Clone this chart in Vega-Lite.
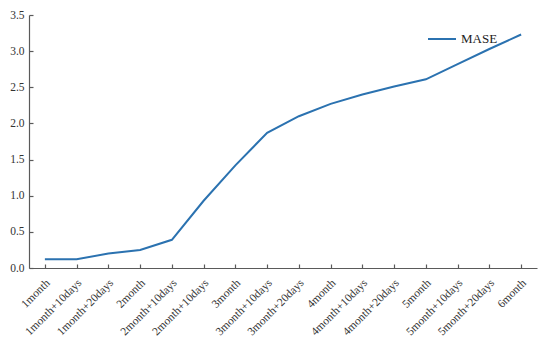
{
  "$schema": "https://vega.github.io/schema/vega-lite/v6.json",
  "width": 508,
  "height": 253,
  "autosize": {"type": "none"},
  "padding": {"left": 29, "top": 15, "right": 13, "bottom": 72},
  "background": "white",
  "config": {
    "font": "Liberation Serif",
    "view": {"stroke": null},
    "axis": {"grid": false, "labelFont": "Liberation Serif", "labelColor": "#333333", "domainColor": "#5a5a5a", "tickColor": "#5a5a5a", "domainWidth": 1.2, "tickWidth": 1.2}
  },
  "data": {
    "values": [
      {"period": "1month", "series": "MASE", "value": 0.12},
      {"period": "1month+10days", "series": "MASE", "value": 0.12},
      {"period": "1month+20days", "series": "MASE", "value": 0.2},
      {"period": "2month", "series": "MASE", "value": 0.25},
      {"period": "2month+10days", "series": "MASE", "value": 0.39},
      {"period": "2month+10days ", "series": "MASE", "value": 0.93},
      {"period": "3month", "series": "MASE", "value": 1.42},
      {"period": "3month+10days", "series": "MASE", "value": 1.87},
      {"period": "3month+20days", "series": "MASE", "value": 2.1},
      {"period": "4month", "series": "MASE", "value": 2.27},
      {"period": "4month+10days", "series": "MASE", "value": 2.4},
      {"period": "4month+20days", "series": "MASE", "value": 2.51},
      {"period": "5month", "series": "MASE", "value": 2.61},
      {"period": "5month+10days", "series": "MASE", "value": 2.82},
      {"period": "5month+20days", "series": "MASE", "value": 3.03},
      {"period": "6month", "series": "MASE", "value": 3.23}
    ]
  },
  "mark": {"type": "line", "strokeWidth": 2},
  "encoding": {
    "x": {
      "field": "period", "type": "ordinal", "sort": null,
      "scale": {"type": "point", "padding": 0.5},
      "axis": {"title": null, "labelAngle": -45, "labelAlign": "right", "labelBaseline": "middle", "labelFontSize": 11.5, "tickSize": -4, "labelPadding": 17, "labelOffset": 3}
    },
    "y": {
      "field": "value", "type": "quantitative",
      "scale": {"domain": [0, 3.5], "nice": false},
      "axis": {"title": null, "values": [0, 0.5, 1, 1.5, 2, 2.5, 3, 3.5], "format": ".1f", "labelFontSize": 11.5, "tickSize": -4, "labelPadding": 9}
    },
    "color": {
      "field": "series", "type": "nominal",
      "scale": {"range": ["#2b72b0"]},
      "legend": {"title": null, "orient": "none", "legendX": 398, "legendY": 9, "symbolType": "stroke", "symbolSize": 784, "symbolStrokeWidth": 2, "labelFontSize": 13, "labelFont": "Liberation Serif", "labelColor": "#222222", "labelOffset": 4, "padding": 0}
    }
  }
}
